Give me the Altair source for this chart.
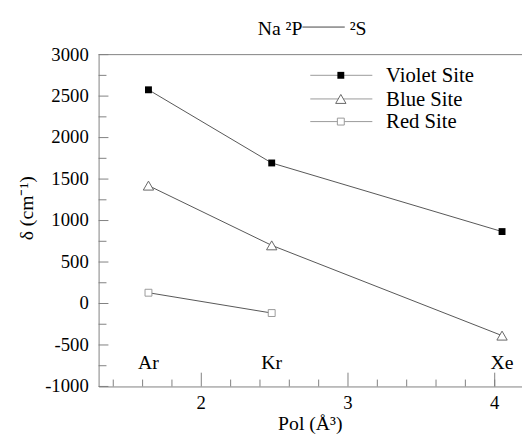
import altair as alt
import pandas as pd

# ---- data ----
gases = ["Ar", "Kr", "Xe"]
pol = [1.64, 2.48, 4.05]
violet = [2576, 1694, 867]
blue = [1421, 701, -387]
red = [130, -115]

x_major = [2, 3, 4]
x_labels = ["2", "3", "4"]
x_minor = [1.4, 1.6, 1.8, 2.2, 2.4, 2.6, 2.8, 3.2, 3.4, 3.6, 3.8, 4.0]
y_major = [-1000, -500, 0, 500, 1000, 1500, 2000, 2500, 3000]
y_labels = ["-1000", "-500", "0", "500", "1000", "1500", "2000", "2500", "3000"]
y_minor = [-750, -250, 250, 750, 1250, 1750, 2250, 2750]

series_names = ["Violet Site", "Blue Site", "Red Site"]

rows = []
for name, vals in zip(series_names, [violet, blue, red]):
    for p, v in zip(pol, vals):
        rows.append({"series": name, "pol": p, "delta": v})
df = pd.DataFrame(rows)
gas_df = pd.DataFrame({"gas": gases, "pol": pol})

W, H = 430, 337
FONT = "Liberation Serif, Times New Roman, serif"
AX = "#808080"
LINE = "#555555"

xscale = alt.Scale(domain=[1.3, 4.186], nice=False, zero=False)
yscale = alt.Scale(domain=[-1000, 3000], nice=False, zero=False)

xaxis = alt.Axis(values=x_major, labels=False, ticks=False, grid=False, title=None,
                 domainColor=AX, domainWidth=1)
yaxis = alt.Axis(values=y_major, labels=False, ticks=False, grid=False, title=None,
                 domainColor=AX, domainWidth=1)

X = alt.X("pol:Q", scale=xscale, axis=xaxis)
Y = alt.Y("delta:Q", scale=yscale, axis=yaxis)

base = alt.Chart(df)
lines = base.mark_line(color=LINE, strokeWidth=1).encode(x=X, y=Y, detail="series:N")

pt_violet = base.transform_filter(alt.datum.series == "Violet Site").mark_point(
    shape="square", size=49, filled=True, color="black", opacity=1).encode(x=X, y=Y)
pt_blue = base.transform_filter(alt.datum.series == "Blue Site").mark_point(
    shape="triangle-up", size=110, fill="white", stroke="#666666", strokeWidth=1,
    opacity=1, fillOpacity=1).encode(x=X, y=Y)
pt_red = base.transform_filter(alt.datum.series == "Red Site").mark_point(
    shape="square", size=49, fill="white", stroke="#999999", strokeWidth=1,
    opacity=1, fillOpacity=1).encode(x=X, y=Y)

# inward ticks
def xticks(vals, length):
    return alt.Chart(pd.DataFrame({"pol": vals})).mark_rule(color=AX, strokeWidth=1).encode(
        x=X, y=alt.value(H), y2=alt.value(H - length))

def yticks(vals, length):
    return alt.Chart(pd.DataFrame({"delta": vals})).mark_rule(color=AX, strokeWidth=1).encode(
        y=Y, x=alt.value(0), x2=alt.value(length))

# tick labels as text
xlab = alt.Chart(pd.DataFrame({"pol": x_major, "t": x_labels})).mark_text(
    font=FONT, fontSize=19, color="black", align="center", baseline="alphabetic").encode(
    x=X, y=alt.value(H + 23), text="t:N")
ylab = alt.Chart(pd.DataFrame({"delta": y_major, "t": y_labels})).mark_text(
    font=FONT, fontSize=19, color="black", align="right", baseline="middle").encode(
    y=Y, x=alt.value(-10), text="t:N")

top_line = alt.Chart(pd.DataFrame({"a": [0]})).mark_rule(color=AX, strokeWidth=1).encode(
    x=alt.value(0), x2=alt.value(W), y=alt.value(0))

gas_text = alt.Chart(gas_df).mark_text(font=FONT, fontSize=20, color="black",
                                       baseline="alphabetic", align="center").encode(
    x=X, y=alt.value(319), text="gas:N")

# title pieces
t1 = alt.Chart(pd.DataFrame({"t": ["Na ²P"]})).mark_text(
    font=FONT, fontSize=20, color="black", align="right", baseline="alphabetic").encode(
    x=alt.value(207), y=alt.value(-20), text="t:N")
t_line = alt.Chart(pd.DataFrame({"a": [0]})).mark_rule(color="#444444", strokeWidth=1).encode(
    x=alt.value(207), x2=alt.value(250), y=alt.value(-28))
t2 = alt.Chart(pd.DataFrame({"t": ["²S"]})).mark_text(
    font=FONT, fontSize=20, color="black", align="left", baseline="alphabetic").encode(
    x=alt.value(255), y=alt.value(-20), text="t:N")

xtitle = alt.Chart(pd.DataFrame({"t": ["Pol (Å³)"]})).mark_text(
    font=FONT, fontSize=20, color="black", align="center", baseline="alphabetic").encode(
    x=alt.value(W / 2), y=alt.value(H + 44), text="t:N")
ytitle = alt.Chart(pd.DataFrame({"t": ["δ (cm⁻¹)"]})).mark_text(
    font=FONT, fontSize=20, color="black", align="center", baseline="alphabetic",
    angle=270).encode(x=alt.value(-67), y=alt.value(156), text="t:N")

# manual legend
legend_layers = []
leg_y = [21, 45, 68]
styles = [
    dict(shape="square", size=49, filled=True, color="black", opacity=1),
    dict(shape="triangle-up", size=110, fill="white", stroke="#666666", strokeWidth=1, opacity=1, fillOpacity=1),
    dict(shape="square", size=49, fill="white", stroke="#999999", strokeWidth=1, opacity=1, fillOpacity=1),
]
for name, yy, st in zip(series_names, leg_y, styles):
    d = pd.DataFrame({"t": [name]})
    legend_layers.append(alt.Chart(d).mark_rule(color="#999999", strokeWidth=1).encode(
        x=alt.value(215), x2=alt.value(278), y=alt.value(yy)))
    legend_layers.append(alt.Chart(d).mark_point(**st).encode(
        x=alt.value(246), y=alt.value(yy)))
    legend_layers.append(alt.Chart(d).mark_text(
        font=FONT, fontSize=21, color="black", align="left", baseline="middle").encode(
        x=alt.value(292), y=alt.value(yy + 1), text="t:N"))

chart = alt.layer(
    lines, xticks(x_major, 14), xticks(x_minor, 7), yticks(y_major, 10), yticks(y_minor, 8),
    xlab, ylab, top_line, pt_violet, pt_blue, pt_red, gas_text,
    t1, t_line, t2, xtitle, ytitle, *legend_layers
).properties(
    width=W, height=H,
    padding={"left": 92, "top": 44, "right": 0, "bottom": 50},
    autosize=alt.AutoSizeParams(type="none"),
    background="white",
).configure_view(stroke=None)

chart.save("out.html", embed_options={"renderer": "svg", "actions": False})
